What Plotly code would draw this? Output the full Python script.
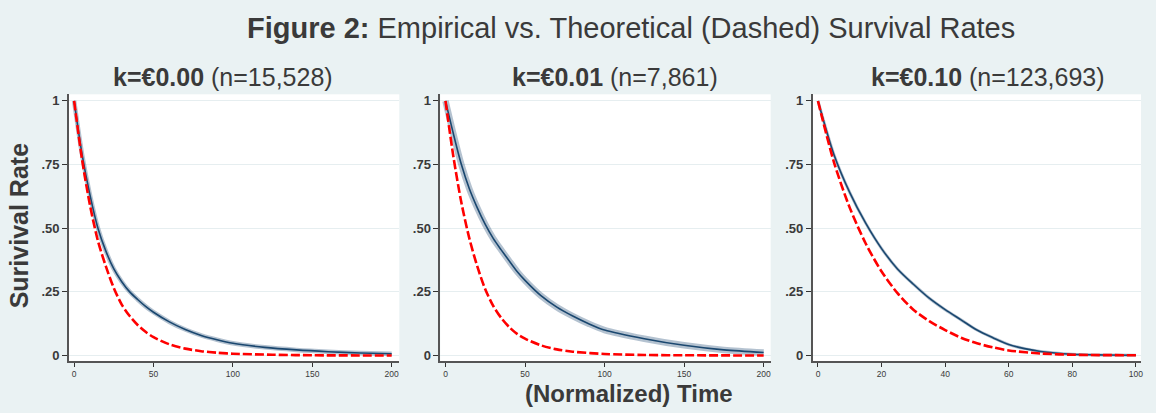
"""
Figure 2 - empirical vs theoretical survival rates (three panels)
"""
import plotly.graph_objects as go

# panel 1: k=0.00
t1 = [0, 5, 10, 15, 20, 25, 30, 35, 40, 45, 50, 60, 70, 80, 90, 100, 120, 140, 160, 180, 200]
emp1 = [1, 0.79, 0.63, 0.50, 0.41, 0.34, 0.29, 0.25, 0.22, 0.193, 0.17, 0.132, 0.102, 0.079,
        0.062, 0.048, 0.032, 0.022, 0.015, 0.010, 0.007]
t1_th = [0, 5, 10, 15, 20, 25, 30, 35, 40, 45, 50, 60, 70, 80, 90, 100, 125, 150, 200]
theo1 = [1, 0.77, 0.59, 0.45, 0.35, 0.265, 0.20, 0.155, 0.12, 0.093, 0.072, 0.044, 0.027,
         0.017, 0.011, 0.007, 0.003, 0.001, 0.0]

# panel 2: k=0.01
t2 = [0, 5, 10, 15, 20, 25, 30, 35, 40, 45, 50, 60, 70, 80, 90, 100, 125, 150, 175, 200]
emp2 = [1, 0.87, 0.75, 0.655, 0.58, 0.515, 0.46, 0.415, 0.372, 0.33, 0.295, 0.235, 0.19,
        0.155, 0.125, 0.10, 0.066, 0.04, 0.022, 0.012]
t2_th = [0, 5, 10, 15, 20, 25, 30, 35, 40, 45, 50, 60, 70, 80, 100, 125, 150, 200]
theo2 = [1, 0.78, 0.60, 0.46, 0.35, 0.26, 0.195, 0.148, 0.112, 0.085, 0.066, 0.04, 0.024,
         0.015, 0.006, 0.002, 0.001, 0.0]

# panel 3: k=0.10
t3 = [0, 5, 10, 15, 20, 25, 30, 35, 40, 45, 50, 55, 60, 65, 70, 80, 90, 100]
emp3 = [1, 0.79, 0.64, 0.52, 0.42, 0.34, 0.28, 0.225, 0.18, 0.14, 0.10, 0.07, 0.043,
        0.027, 0.016, 0.005, 0.002, 0.001]
t3_th = [0, 5, 10, 15, 20, 25, 30, 35, 40, 45, 50, 55, 60, 70, 80, 100]
theo3 = [1, 0.76, 0.58, 0.44, 0.33, 0.245, 0.18, 0.135, 0.10, 0.07, 0.048, 0.032, 0.02,
         0.008, 0.003, 0.001]

panel_titles = ['<b>k=€0.00</b> (n=15,528)', '<b>k=€0.01</b> (n=7,861)', '<b>k=€0.10</b> (n=123,693)']
y_ticks = [0, 0.25, 0.5, 0.75, 1]
y_ticktext = ['0', '.25', '.50', '.75', '1']
x_ticks_200 = [0, 50, 100, 150, 200]
x_ticks_100 = [0, 20, 40, 60, 80, 100]

BG = '#EAF2F3'
NAVY = '#1A476F'
TXT = '#3a3a3a'
FONT = 'Liberation Sans, Arial, sans-serif'

W, H = 1156, 413
# plot areas in pixels (left, right)
px = [(69, 400), (441, 772), (814, 1143)]
x_ranges = [[-3.3, 204.8], [-3.3, 204.4], [-1.7, 101.6]]
band_w = [4.5, 6.5, 3]
y_dom = [1 - 363 / H, 1 - 94 / H]

fig = go.Figure()

data = [(t1, emp1, t1_th, theo1), (t2, emp2, t2_th, theo2), (t3, emp3, t3_th, theo3)]
for i, (te, se, tt, st) in enumerate(data):
    xa = 'x' if i == 0 else f'x{i + 1}'
    ya = 'y' if i == 0 else f'y{i + 1}'
    # confidence band look
    fig.add_trace(go.Scatter(x=te, y=se, mode='lines', xaxis=xa, yaxis=ya,
                             line=dict(color='rgba(26,71,111,0.33)', width=band_w[i],
                                       shape='spline', smoothing=0.8),
                             hoverinfo='skip'))
    fig.add_trace(go.Scatter(x=te, y=se, mode='lines', xaxis=xa, yaxis=ya,
                             line=dict(color=NAVY, width=1.6, shape='spline', smoothing=0.8),
                             name='Empirical'))
    fig.add_trace(go.Scatter(x=tt, y=st, mode='lines', xaxis=xa, yaxis=ya,
                             line=dict(color='#FF0000', width=2.6, dash='9px,3px',
                                       shape='spline', smoothing=0.8),
                             name='Theoretical'))

layout = dict(
    width=W, height=H,
    paper_bgcolor=BG, plot_bgcolor='white',
    margin=dict(l=0, r=0, t=0, b=0),
    showlegend=False,
    font=dict(family=FONT, color=TXT),
)

for i in range(3):
    sfx = '' if i == 0 else str(i + 1)
    layout[f'xaxis{sfx}'] = dict(
        domain=[px[i][0] / W, px[i][1] / W], range=x_ranges[i],
        tickvals=x_ticks_100 if i == 2 else x_ticks_200,
        ticks='outside', ticklen=4, tickcolor='#333', tickwidth=1,
        tickfont=dict(size=8.5, color=TXT),
        showline=True, linecolor='#555', linewidth=1.5,
        showgrid=False, zeroline=False, anchor=f'y{sfx}',
    )
    layout[f'yaxis{sfx}'] = dict(
        domain=y_dom, range=[-0.023, 1.026],
        tickvals=y_ticks, ticktext=y_ticktext,
        ticks='outside', ticklen=5, tickcolor='#333', tickwidth=1,
        tickfont=dict(size=13, color=TXT, weight='bold'),
        showline=True, linecolor='#555', linewidth=1.5,
        showgrid=True, gridcolor='#E6EEF0', gridwidth=1,
        zeroline=False, anchor=f'x{sfx}',
    )

fig.update_layout(**layout)

ann = [
    dict(text='<b>Figure 2:</b> Empirical vs. Theoretical (Dashed) Survival Rates',
         x=632 / W, y=1 - 27 / H, font=dict(size=29)),
    dict(text='<b>Surivival Rate</b>', x=19 / W, y=1 - 226 / H, textangle=-90, font=dict(size=25)),
    dict(text='<b>(Normalized) Time</b>', x=630 / W, y=1 - 395 / H, font=dict(size=24)),
]
for cx, title in zip([223, 616, 990], panel_titles):
    ann.append(dict(text=title, x=cx / W, y=1 - 77 / H, font=dict(size=25)))

for a in ann:
    a.update(xref='paper', yref='paper', showarrow=False, xanchor='center', yanchor='middle')
    a['font'].update(family=FONT, color=TXT)
fig.update_layout(annotations=ann)

# drop the default page margin so the figure sits at the window's corner
fig.write_html("out.html", config={'displayModeBar': False},
               post_script="document.body.style.margin='0';")
